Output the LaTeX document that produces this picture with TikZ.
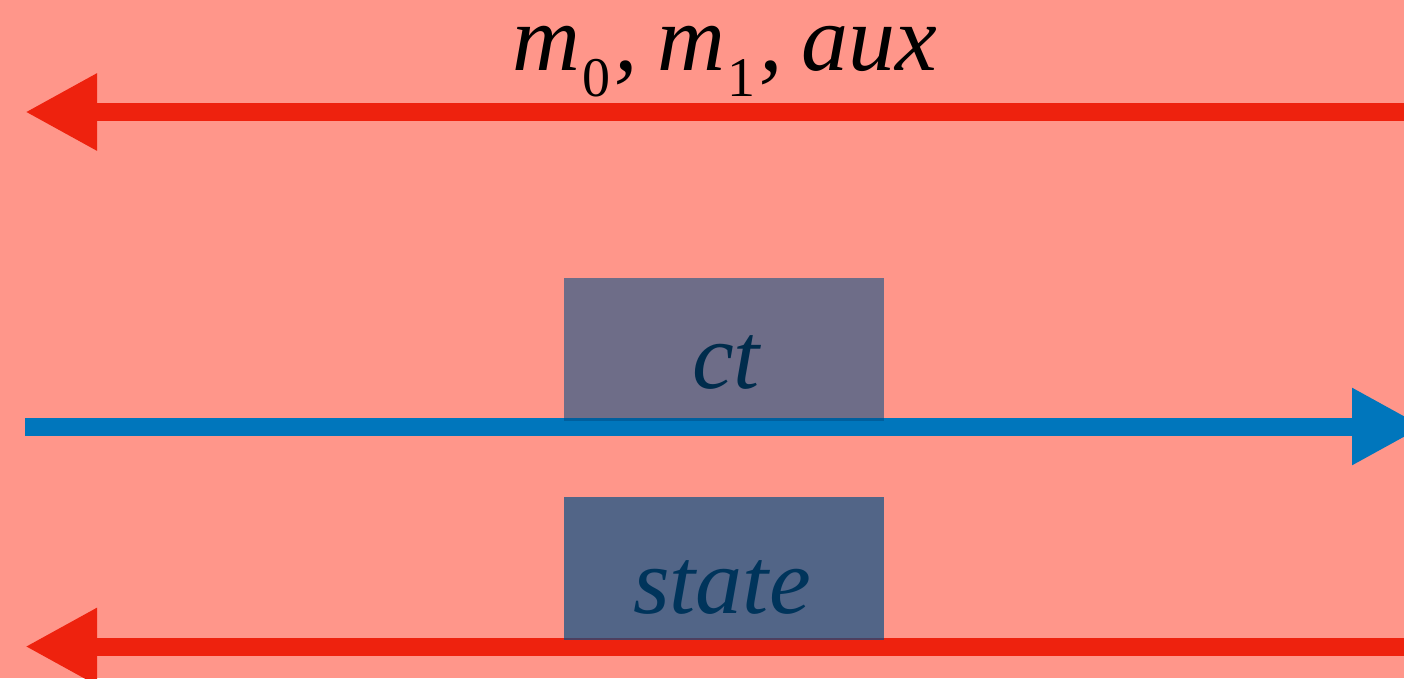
\documentclass[tikz,border=0pt]{standalone}
\usepackage{fontspec}
\setmainfont{Liberation Serif}
\usetikzlibrary{arrows.meta}
\definecolor{bgsalmon}{RGB}{255,150,138}
\definecolor{arrred}{RGB}{238,34,14}
\definecolor{arrblue}{RGB}{0,118,188}
\definecolor{boxnavy}{RGB}{0,78,135}
\tikzset{
  flow/.style={line width=18pt,-{Triangle[length=72pt,width=72pt]}},
  bigtext/.style={inner sep=0pt,anchor=base,font=\fontsize{94}{100}\selectfont\itshape,text=black},
  msgbox/.style={draw=none,fill=boxnavy,minimum width=320pt,minimum height=143pt,inner sep=0pt}
}
\newcommand{\lowsub}[1]{\kern2pt\raisebox{-26pt}{\fontsize{56}{56}\selectfont\upshape #1}\kern4pt}
\begin{document}
\begin{tikzpicture}[x=1pt,y=-1pt]
\useasboundingbox (0,0) rectangle (1404,678);
\fill[bgsalmon] (0,0) rectangle (1404,678);
% endpoints
\coordinate (r1s) at (1404,112);
\coordinate (r1e) at (25,112);
\coordinate (bs) at (25,426.5);
\coordinate (be) at (1424,426.5);
\coordinate (r2s) at (1404,646.5);
\coordinate (r2e) at (25,646.5);
% arrows
\draw[flow,arrred] (r1s) -- (r1e);
\draw[flow,arrblue] (bs) -- (be);
\draw[flow,arrred] (r2s) -- (r2e);
% labels
\node[bigtext,text height=50pt,text depth=28pt] (toplabel) at (725,70) {m\lowsub{0},\kern19pt m\lowsub{1},\kern19pt aux};
\node[bigtext] (ctlabel) at (726,388) {ct};
\node[bigtext] (statelabel) at (722,613) {state};
% translucent boxes
\node[msgbox,fill opacity=0.57] (ctbox) at (724,349.5) {};
\node[msgbox,fill opacity=0.68] (statebox) at (724,568) {};
\end{tikzpicture}
\end{document}
